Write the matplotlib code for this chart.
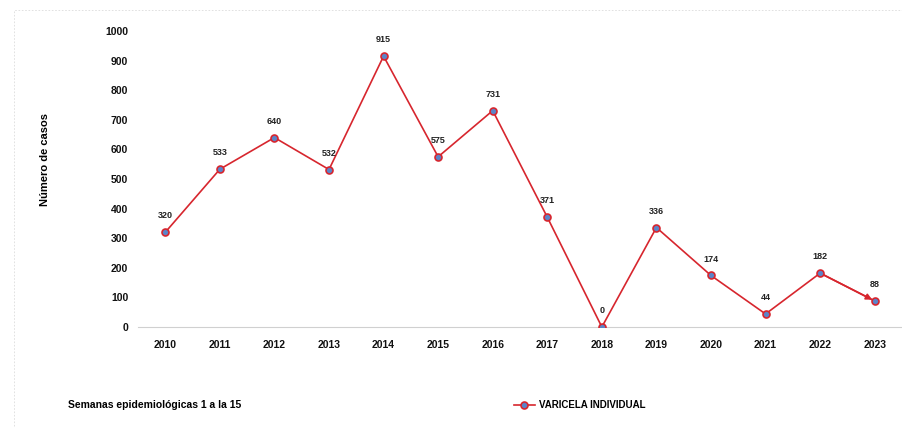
import matplotlib.pyplot as plt
from matplotlib.patches import Rectangle

anos = ["2010", "2011", "2012", "2013", "2014", "2015", "2016",
        "2017", "2018", "2019", "2020", "2021", "2022", "2023"]
casos = [320, 533, 640, 532, 915, 575, 731, 371, 0, 336, 174, 44, 182, 88]
serie = "VARICELA INDIVIDUAL"

vermelho = "#d7262e"
azul = "#5b84c8"

plt.rcParams["font.family"] = ["Liberation Sans", "DejaVu Sans"]

fig = plt.figure(figsize=(9.02, 4.28), dpi=100)
ax = fig.add_axes([138 / 902, 1 - 327 / 428, 764 / 902, 296 / 428])

x = list(range(len(anos)))
ax.plot(x, casos, color=vermelho, lw=1.2, marker="o", markersize=5,
        markerfacecolor=azul, markeredgecolor=vermelho, markeredgewidth=1.2,
        label=serie, zorder=3)
# ponta de seta no ultimo segmento
ax.annotate("", xy=(x[-1], casos[-1]), xytext=(x[-2], casos[-2]),
            arrowprops=dict(arrowstyle="-|>", color=vermelho, lw=1.2,
                            mutation_scale=9, shrinkA=0, shrinkB=2),
            zorder=2)

for xi, v in zip(x, casos):
    ax.text(xi, v + 40, str(v), ha="center", va="bottom", fontsize=6.5,
            fontweight="bold", color="#222222")

ax.set_xlim(-0.5, len(anos) - 0.5)
ax.set_ylim(0, 1000)
ax.set_yticks(range(0, 1001, 100))
ax.set_xticks(x)
ax.set_xticklabels(anos)
for lab in ax.get_xticklabels() + ax.get_yticklabels():
    lab.set_fontweight("bold")
    lab.set_fontsize(7.5)
ax.tick_params(axis="both", length=0, colors="#111111")
ax.tick_params(axis="y", pad=7)
ax.tick_params(axis="x", pad=9)
for lado in ["top", "right", "left"]:
    ax.spines[lado].set_visible(False)
ax.spines["bottom"].set_color("#d0d0d0")

fig.text(45 / 902, 1 - 160 / 428, "Número de casos", rotation=90,
         ha="center", va="center", fontsize=8, fontweight="bold")
fig.text(68 / 902, 1 - 405 / 428, "Semanas epidemiológicas 1 a la 15",
         ha="left", va="center", fontsize=7.5, fontweight="bold")

leg = fig.legend(loc="center left", bbox_to_anchor=(505 / 902, 1 - 405 / 428),
                 frameon=False, fontsize=7, handlelength=2.2, handletextpad=0.4)
for t in leg.get_texts():
    t.set_fontweight("bold")

# borda tracejada clara do grafico original
fig.patches.append(Rectangle((14 / 902, -0.05), 1.0, 1 - 10 / 428 + 0.05,
                             transform=fig.transFigure, fill=False,
                             ls=(0, (2, 2)), lw=0.6, ec="#dcdcdc"))

fig.savefig("out.png", dpi=100)
